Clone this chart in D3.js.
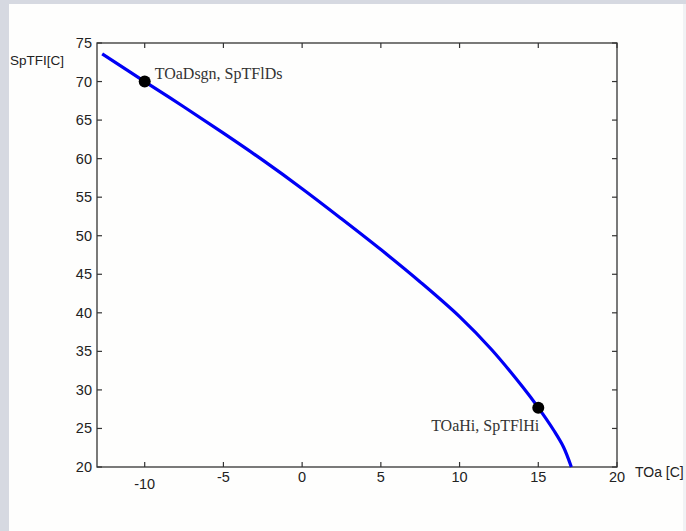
<!DOCTYPE html>
<html>
<head>
<meta charset="utf-8">
<script src="https://cdn.jsdelivr.net/npm/d3@7"></script>
<style>
  body { margin: 0; background: #d6d9e1; }
  svg { display: block; }
</style>
</head>
<body>
<script>
// curve
var toa   = [-12.7, -10, -7.5, -5, -2.5, 0, 2.5, 5, 7.5, 10, 12, 14, 15, 16, 16.6, 17.1];
var sptfi = [73.6, 70.0, 66.7, 63.3, 59.8, 56.1, 52.2, 48.2, 44.0, 39.5, 35.3, 30.4, 27.7, 24.7, 22.6, 20.0];

// marked points and their labels
var markX = [-10, 15];
var markY = [70, 27.7];
var markNames = ["TOaDsgn, SpTFlDs", "TOaHi, SpTFlHi"];

var xTicks = [-10, -5, 0, 5, 10, 15, 20];
var yTicks = [20, 25, 30, 35, 40, 45, 50, 55, 60, 65, 70, 75];

function init() {
    var W = 686, H = 531;
    var left = 97, right = 617, top = 43, bottom = 467;

    var svg = d3.select("body").append("svg")
        .attr("width", W)
        .attr("height", H);

    // panel
    svg.append("rect")
        .attr("x", 9).attr("y", 4)
        .attr("width", 674).attr("height", H - 4)
        .attr("fill", "#fefefd");
    svg.append("rect")
        .attr("x", 683).attr("y", 4)
        .attr("width", 3).attr("height", H - 4)
        .attr("fill", "#f1f2f4");

    var x = d3.scaleLinear().domain([-13.03, 20]).range([left, right]);
    var y = d3.scaleLinear().domain([20, 75]).range([bottom, top]);

    var axisColor = "#333";

    // ticks pointing inward on all four sides
    var g = svg.append("g").attr("stroke", axisColor).attr("stroke-width", 1.2);
    xTicks.forEach(function(t) {
        g.append("line").attr("x1", x(t)).attr("x2", x(t)).attr("y1", bottom).attr("y2", bottom - 5);
        g.append("line").attr("x1", x(t)).attr("x2", x(t)).attr("y1", top).attr("y2", top + 5);
    });
    yTicks.forEach(function(t) {
        g.append("line").attr("x1", left).attr("x2", left + 5).attr("y1", y(t)).attr("y2", y(t));
        g.append("line").attr("x1", right).attr("x2", right - 5).attr("y1", y(t)).attr("y2", y(t));
    });

    svg.append("rect")
        .attr("x", left).attr("y", top)
        .attr("width", right - left).attr("height", bottom - top)
        .attr("fill", "none")
        .attr("stroke", axisColor)
        .attr("stroke-width", 1.3);

    var sans = "'Liberation Sans', Arial, sans-serif";

    // tick labels
    svg.selectAll(".xl").data(xTicks).enter().append("text")
        .attr("x", function(d) { return x(d); })
        .attr("y", function(d) { return d === -10 ? 489 : 482; })
        .attr("text-anchor", "middle")
        .attr("font-family", sans).attr("font-size", 14.5)
        .attr("fill", "#222")
        .text(function(d) { return d; });

    svg.selectAll(".yl").data(yTicks).enter().append("text")
        .attr("x", 92)
        .attr("y", function(d) { return y(d) + 5; })
        .attr("text-anchor", "end")
        .attr("font-family", sans).attr("font-size", 14.5)
        .attr("fill", "#222")
        .text(function(d) { return d; });

    svg.append("text")
        .attr("x", 10).attr("y", 65)
        .attr("font-family", sans).attr("font-size", 13.5)
        .attr("fill", "#222")
        .text("SpTFI[C]");

    svg.append("text")
        .attr("x", 635).attr("y", 477)
        .attr("font-family", sans).attr("font-size", 14)
        .attr("fill", "#222")
        .text("TOa [C]");

    // curve
    var pts = toa.map(function(d, i) { return [d, sptfi[i]]; });
    var line = d3.line()
        .x(function(d) { return x(d[0]); })
        .y(function(d) { return y(d[1]); })
        .curve(d3.curveCatmullRom.alpha(0.5));

    svg.append("path")
        .datum(pts)
        .attr("d", line)
        .attr("fill", "none")
        .attr("stroke", "#0000f5")
        .attr("stroke-width", 3.2);

    // marked points
    svg.selectAll(".dot").data(markX).enter().append("circle")
        .attr("cx", function(d) { return x(d); })
        .attr("cy", function(d, i) { return y(markY[i]); })
        .attr("r", 6)
        .attr("fill", "#000");

    var serif = "'Liberation Serif', 'Times New Roman', serif";
    svg.append("text")
        .attr("x", x(markX[0]) + 10).attr("y", y(markY[0]) - 3)
        .attr("font-family", serif).attr("font-size", 16)
        .attr("fill", "#333")
        .text(markNames[0]);

    svg.append("text")
        .attr("x", x(markX[1]) + 1).attr("y", y(markY[1]) + 23)
        .attr("text-anchor", "end")
        .attr("font-family", serif).attr("font-size", 16)
        .attr("fill", "#333")
        .text(markNames[1]);
}
window.onload = init;
</script>
</body>
</html>
